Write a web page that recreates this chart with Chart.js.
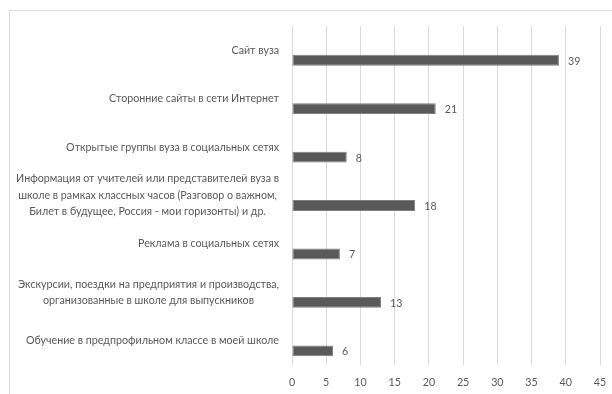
<!DOCTYPE html>
<html>
<head>
<meta charset="utf-8">
<script src="https://cdn.jsdelivr.net/npm/chart.js@4/dist/chart.umd.min.js"></script>
<style>
  html, body { margin: 0; padding: 0; background: #fff; }
  #wrap { width: 612px; height: 394px; position: relative; }
</style>
</head>
<body>
<div id="wrap"><canvas id="myChart" width="612" height="394"></canvas></div>
<script>
const categories = [
  'Сайт вуза',
  'Сторонние сайты в сети Интернет',
  'Открытые группы вуза в социальных сетях',
  ['Информация от учителей или представителей вуза в', 'школе в рамках классных часов (Разговор о важном,', 'Билет в будущее, Россия - мои горизонты) и др.'],
  'Реклама в социальных сетях',
  ['Экскурсии, поездки на предприятия и производства,', 'организованные в школе для выпускников'],
  'Обучение в предпрофильном классе в моей школе'
];
const values = [39, 21, 8, 18, 7, 13, 6];
const spacer = [null, null, null, null, null, null, null]; // empty series, pushes bars below the labels
const xTicks = [0, 5, 10, 15, 20, 25, 30, 35, 40, 45];

const textGray = '#595959';
const fontName = 'Lato';
const fontSize = 10.7;

// frame, category labels (blocks centred, right edge on the axis gap) and value labels
const extras = {
  id: 'extras',
  beforeDraw(chart) {
    const c = chart.ctx;
    c.save();
    c.strokeStyle = '#d9d9d9';
    c.lineWidth = 1;
    c.beginPath();
    c.moveTo(9.5, chart.height);
    c.lineTo(9.5, 10.5);
    c.lineTo(chart.width, 10.5);
    c.stroke();
    c.restore();
  },
  afterDraw(chart) {
    const c = chart.ctx;
    const ys = chart.scales.y;
    c.save();
    c.fillStyle = textGray;
    c.font = fontSize + 'px ' + fontName;
    c.textAlign = 'center';
    c.textBaseline = 'middle';
    categories.forEach((lab, i) => {
      const lines = Array.isArray(lab) ? lab : [lab];
      const w = Math.max(...lines.map(l => c.measureText(l).width));
      const cx = ys.right - 13 - w / 2;
      const cy = ys.getPixelForTick(i);
      lines.forEach((l, j) => {
        c.fillText(l, cx, cy + (j - (lines.length - 1) / 2) * 16.5);
      });
    });
    c.restore();
  },
  afterDatasetsDraw(chart) {
    const c = chart.ctx;
    const meta = chart.getDatasetMeta(1);
    c.save();
    c.fillStyle = textGray;
    c.font = fontSize + 'px ' + fontName;
    c.textAlign = 'left';
    c.textBaseline = 'middle';
    meta.data.forEach((bar, i) => {
      c.fillText(String(values[i]), bar.x + 9, bar.y + 1);
    });
    c.restore();
  }
};

new Chart(document.getElementById('myChart'), {
  type: 'bar',
  data: {
    labels: categories,
    datasets: [
      { data: spacer, backgroundColor: '#595959' },
      {
        data: values,
        backgroundColor: '#595959',
        borderColor: '#7f7f7f',
        borderWidth: 1,
        borderSkipped: false
      }
    ]
  },
  options: {
    indexAxis: 'y',
    responsive: false,
    animation: false,
    devicePixelRatio: 1,
    categoryPercentage: 0.83,
    barPercentage: 0.54,
    layout: { padding: { top: 26, right: 12, left: 0, bottom: 0 } },
    plugins: {
      legend: { display: false },
      tooltip: { enabled: false }
    },
    scales: {
      x: {
        min: 0,
        max: 45,
        afterBuildTicks(axis) { axis.ticks = xTicks.map(v => ({ value: v })); },
        afterFit(axis) {
          axis.height = 29;
          axis.paddingRight = 6;
          axis.paddingLeft = 0;
        },
        grid: { color: '#d9d9d9', drawTicks: false },
        border: { display: false },
        ticks: { color: textGray, font: { family: fontName, size: fontSize }, padding: 11 }
      },
      y: {
        afterFit(axis) { axis.width = 292; },
        grid: { display: false, drawTicks: false },
        border: { display: false },
        ticks: { display: false, autoSkip: false }
      }
    }
  },
  plugins: [extras]
});
</script>
</body>
</html>
